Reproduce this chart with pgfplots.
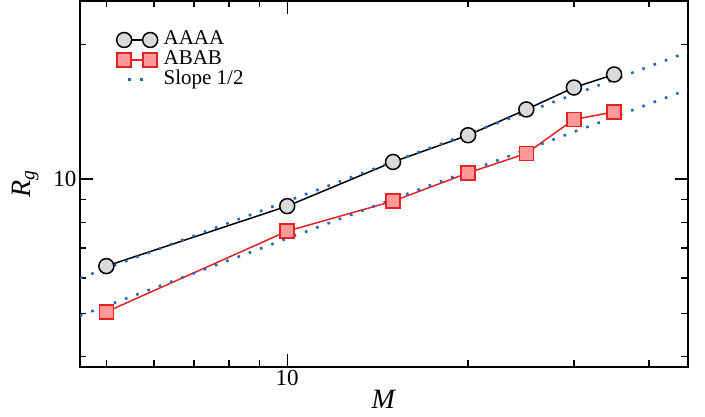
\documentclass[border=0pt]{standalone}
\usepackage{pgfplots}
\pgfplotsset{compat=1.18}
\usepackage{fontspec}
\setmainfont{Liberation Serif}
\definecolor{cgray}{HTML}{D9D9D9}
\definecolor{cred}{HTML}{E82224}
\definecolor{cpink}{HTML}{FF9A9A}
\definecolor{cblue}{HTML}{2468B8}
\pgfplotsset{
  twomark/.style={legend image code/.code={\draw[mark repeat=1,##1] plot coordinates {(0pt,0pt) (26pt,0pt)};}},
  dotleg/.style={legend image code/.code={\draw[##1] plot coordinates {(4pt,0pt) (19pt,0pt)};}},
}
\begin{document}
\begin{tikzpicture}
\useasboundingbox (0pt,0pt) rectangle (705pt,416pt);
\begin{axis}[
  at={(80pt,49.3pt)}, anchor=south west,
  scale only axis, width=607.7pt, height=365.7pt,
  xmode=log, ymode=log,
  xmin=4.52, xmax=46.4, ymin=3.8, ymax=25,
  xtick={10}, xticklabels={10},
  ytick={10}, yticklabels={10},
  minor xtick={5,6,7,8,9,20,30,40},
  minor ytick={4,5,6,7,8,9,20},
  tick align=inside,
  major tick length=13pt, minor tick length=6.5pt,
  every tick/.style={black, line width=1.3pt},
  axis line style={line width=2pt},
  tick label style={font=\fontsize{23}{24}\selectfont},
  /pgf/number format/assume math mode=true,
  xlabel={\fontsize{28}{30}\selectfont\textit{M}},
  ylabel={\fontsize{28}{30}\selectfont\textit{R}\textsubscript{\textit{g}}},
  every axis x label/.style={at={(axis description cs:0.5,0)}, anchor=center, yshift=-33pt},
  every axis y label/.style={at={(axis description cs:-0.09,0.5)}, rotate=90, anchor=center},
  legend style={at={(axis description cs:0.060,0.921)}, anchor=north west, draw=none, fill=none,
    inner sep=0pt, row sep=0pt, column sep=5pt, font=\fontsize{21}{22}\selectfont,
    nodes={inner sep=1pt, text height=13.5pt, text depth=4.3pt}},
  legend cell align=left,
]
\addplot[black, line width=1.5pt, mark=*, mark size=7.5pt,
  mark options={fill=cgray, draw=black, line width=1.5pt}, twomark]
coordinates {(5,6.38) (10,8.69) (15,10.91) (20,12.52) (25,14.30) (30,16.01) (35,17.12)};
\addlegendentry{AAAA}
\addplot[cred, line width=1.5pt, mark=square*, mark size=7pt,
  mark options={fill=cpink, draw=cred, line width=1.5pt}, twomark]
coordinates {(5,5.04) (10,7.64) (15,8.915) (20,10.31) (25,11.40) (30,13.58) (35,14.12)};
\addlegendentry{ABAB}
\addplot[cblue, line width=2.6pt, dash pattern=on 2.6pt off 9.4pt, no marks, dotleg]
coordinates {(4.52,5.995) (46.4,19.21)};
\addlegendentry{Slope 1/2}
\addplot[cblue, line width=2.6pt, dash pattern=on 2.6pt off 9.4pt, no marks, forget plot]
coordinates {(4.52,4.943) (46.4,15.84)};
\end{axis}
\end{tikzpicture}
\end{document}
